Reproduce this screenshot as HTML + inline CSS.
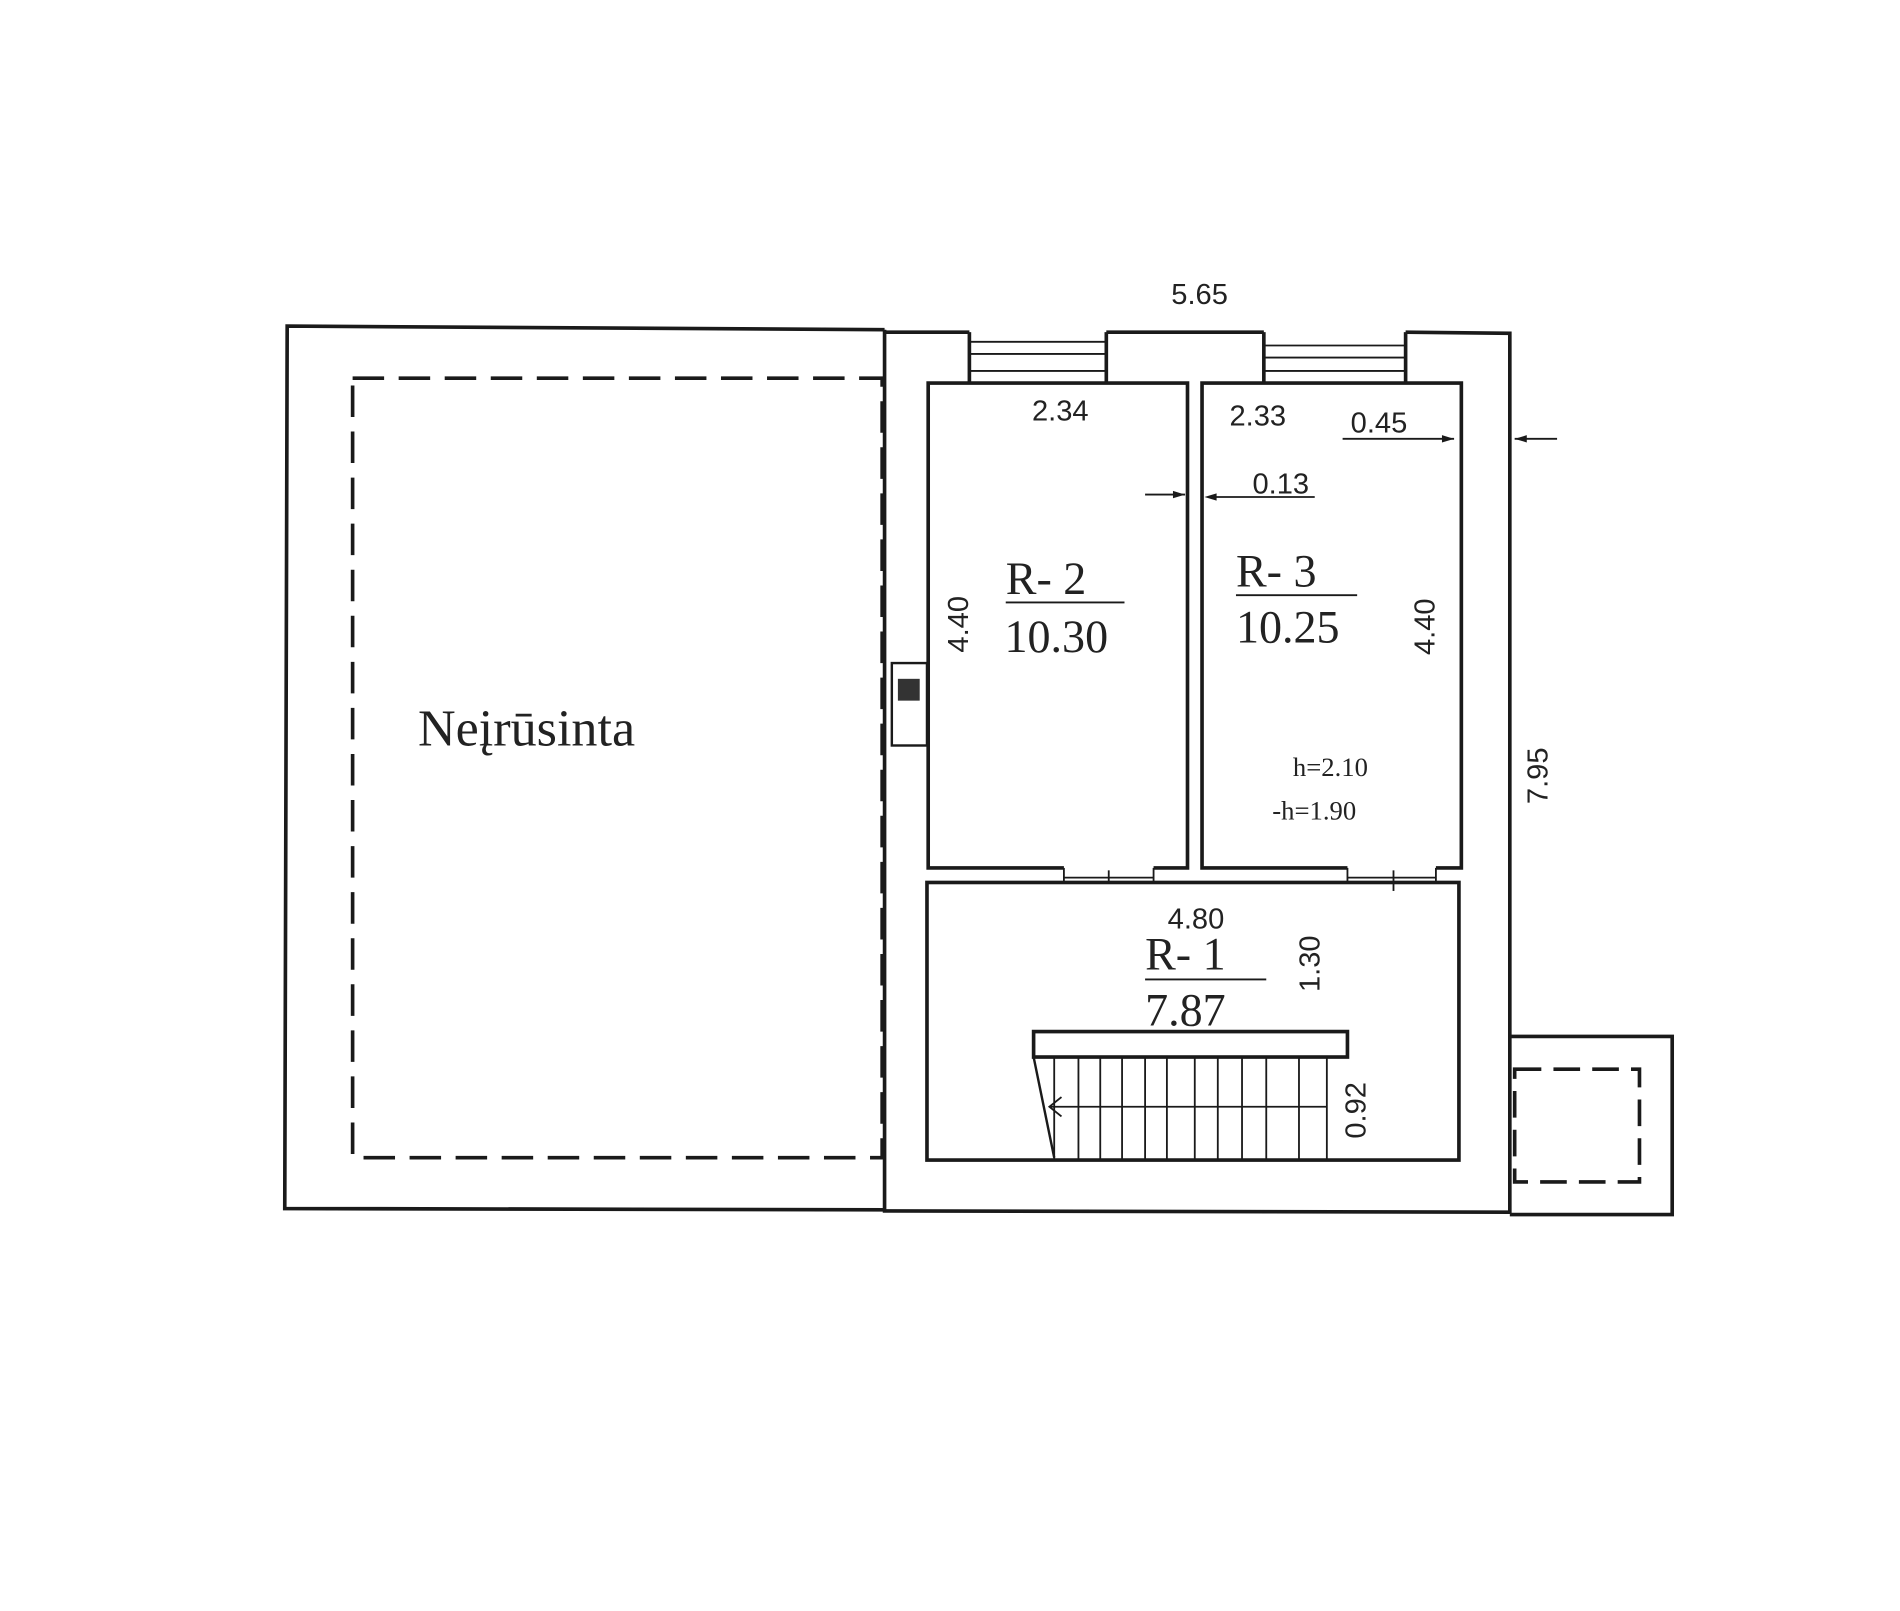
<!DOCTYPE html>
<html><head><meta charset="utf-8"><style>
html,body{margin:0;padding:0;background:#fff;width:1900px;height:1611px;overflow:hidden}
svg{display:block}
.s{font-family:"Liberation Sans","DejaVu Sans",sans-serif;fill:#222}
.r{font-family:"Liberation Serif",serif;fill:#222}
</style></head><body>
<svg width="1900" height="1611" viewBox="0 0 1568 1329" preserveAspectRatio="none" xmlns="http://www.w3.org/2000/svg">
<g fill="none" stroke="#1a1a1a" stroke-width="3">
<polyline points="730,272 237,269 235,997 730,998"/>
<polyline points="730,272 730,999 1246,1000 1246,275 1160,274"/>
<line x1="913" y1="274" x2="1043" y2="274"/>
<line x1="730" y1="274" x2="800" y2="274"/>
<line x1="800" y1="274" x2="800" y2="316"/><line x1="913" y1="274" x2="913" y2="316"/>
<line x1="1043" y1="274" x2="1043" y2="316"/><line x1="1160" y1="274" x2="1160" y2="316"/>
<g stroke-width="1.5"><line x1="800" y1="282" x2="913" y2="282"/><line x1="800" y1="292" x2="913" y2="292"/><line x1="800" y1="306" x2="913" y2="306"/>
<line x1="1043" y1="285" x2="1160" y2="285"/><line x1="1043" y1="295" x2="1160" y2="295"/><line x1="1043" y1="306" x2="1160" y2="306"/></g>
<rect x="291" y="312" width="437" height="643" stroke-dasharray="26,12"/>
<polyline points="878,716 766,716 766,316 980,316 980,716 952,716"/>
<line x1="878" y1="724" x2="952" y2="724" stroke-width="1.5"/>
<line x1="878" y1="716" x2="878" y2="728" stroke-width="1.5"/><line x1="952" y1="716" x2="952" y2="728" stroke-width="1.5"/>
<line x1="915" y1="718" x2="915" y2="728" stroke-width="1.5"/>
<polyline points="1112,716 992,716 992,316 1206,316 1206,716 1185,716"/>
<line x1="1112" y1="724" x2="1185" y2="724" stroke-width="1.5"/>
<line x1="1112" y1="716" x2="1112" y2="728" stroke-width="1.5"/><line x1="1185" y1="716" x2="1185" y2="728" stroke-width="1.5"/><line x1="1150" y1="718" x2="1150" y2="735" stroke-width="1.5"/>
<rect x="765" y="728" width="439" height="229"/>
<rect x="853" y="851" width="259" height="21"/>
<line x1="853" y1="872" x2="870" y2="955" stroke-width="2"/>
<g stroke-width="1.5">
<line x1="870" y1="872" x2="870" y2="957"/><line x1="890" y1="872" x2="890" y2="957"/><line x1="908" y1="872" x2="908" y2="957"/><line x1="926" y1="872" x2="926" y2="957"/><line x1="945" y1="872" x2="945" y2="957"/><line x1="963" y1="872" x2="963" y2="957"/><line x1="986" y1="872" x2="986" y2="957"/><line x1="1005" y1="872" x2="1005" y2="957"/><line x1="1025" y1="872" x2="1025" y2="957"/><line x1="1045" y1="872" x2="1045" y2="957"/><line x1="1072" y1="872" x2="1072" y2="957"/><line x1="1095" y1="872" x2="1095" y2="957"/>
<line x1="866" y1="913" x2="1095" y2="913"/>
<polyline points="876,905 866,913 876,921"/>
</g>
<polyline points="1246,855 1380,855 1380,1002 1246,1002"/>
<rect x="1250" y="882" width="103" height="93" stroke-dasharray="22,10"/>
<rect x="736" y="547" width="29" height="68" stroke-width="2"/>
<g stroke-width="1.5">
<line x1="1108" y1="362" x2="1200" y2="362"/><line x1="1002" y1="410" x2="1085" y2="410"/>
<line x1="945" y1="408" x2="978" y2="408"/>
<line x1="1250" y1="362" x2="1285" y2="362"/>
<line x1="830" y1="497" x2="928" y2="497"/><line x1="1020" y1="491" x2="1120" y2="491"/>
<line x1="945" y1="808" x2="1045" y2="808"/>
</g>
</g>
<rect x="741" y="560" width="18" height="18" fill="#333"/>
<g fill="#1a1a1a"><path d="M1200,362 l-10,-3 v6z"/><path d="M978,408 l-10,-3 v6z"/><path d="M994,410 l10,-3 v6z"/><path d="M1250,362 l10,-3 v6z"/></g>
<g class="s" font-size="24" text-anchor="middle">
<text x="990" y="251">5.65</text>
<text x="875" y="347">2.34</text>
<text x="1038" y="351">2.33</text>
<text x="1138" y="357">0.45</text>
<text x="1057" y="407">0.13</text>
<text x="987" y="766">4.80</text>
<text transform="translate(799,515) rotate(-90)">4.40</text>
<text transform="translate(1184,517) rotate(-90)">4.40</text>
<text transform="translate(1277,640) rotate(-90)">7.95</text>
<text transform="translate(1089,795) rotate(-90)">1.30</text>
<text transform="translate(1127,916) rotate(-90)">0.92</text>
</g>
<g class="r" font-size="38">
<text x="830" y="490">R- 2</text>
<text x="829" y="538">10.30</text>
<text x="1020" y="484">R- 3</text>
<text x="1020" y="530">10.25</text>
<text x="945" y="800">R- 1</text>
<text x="945" y="846">7.87</text>
<text x="345" y="615" font-size="43">Neįrūsinta</text>
<text x="1067" y="640" font-size="22">h=2.10</text>
<text x="1050" y="676" font-size="22">-h=1.90</text>
</g>
</svg>
</body></html>
